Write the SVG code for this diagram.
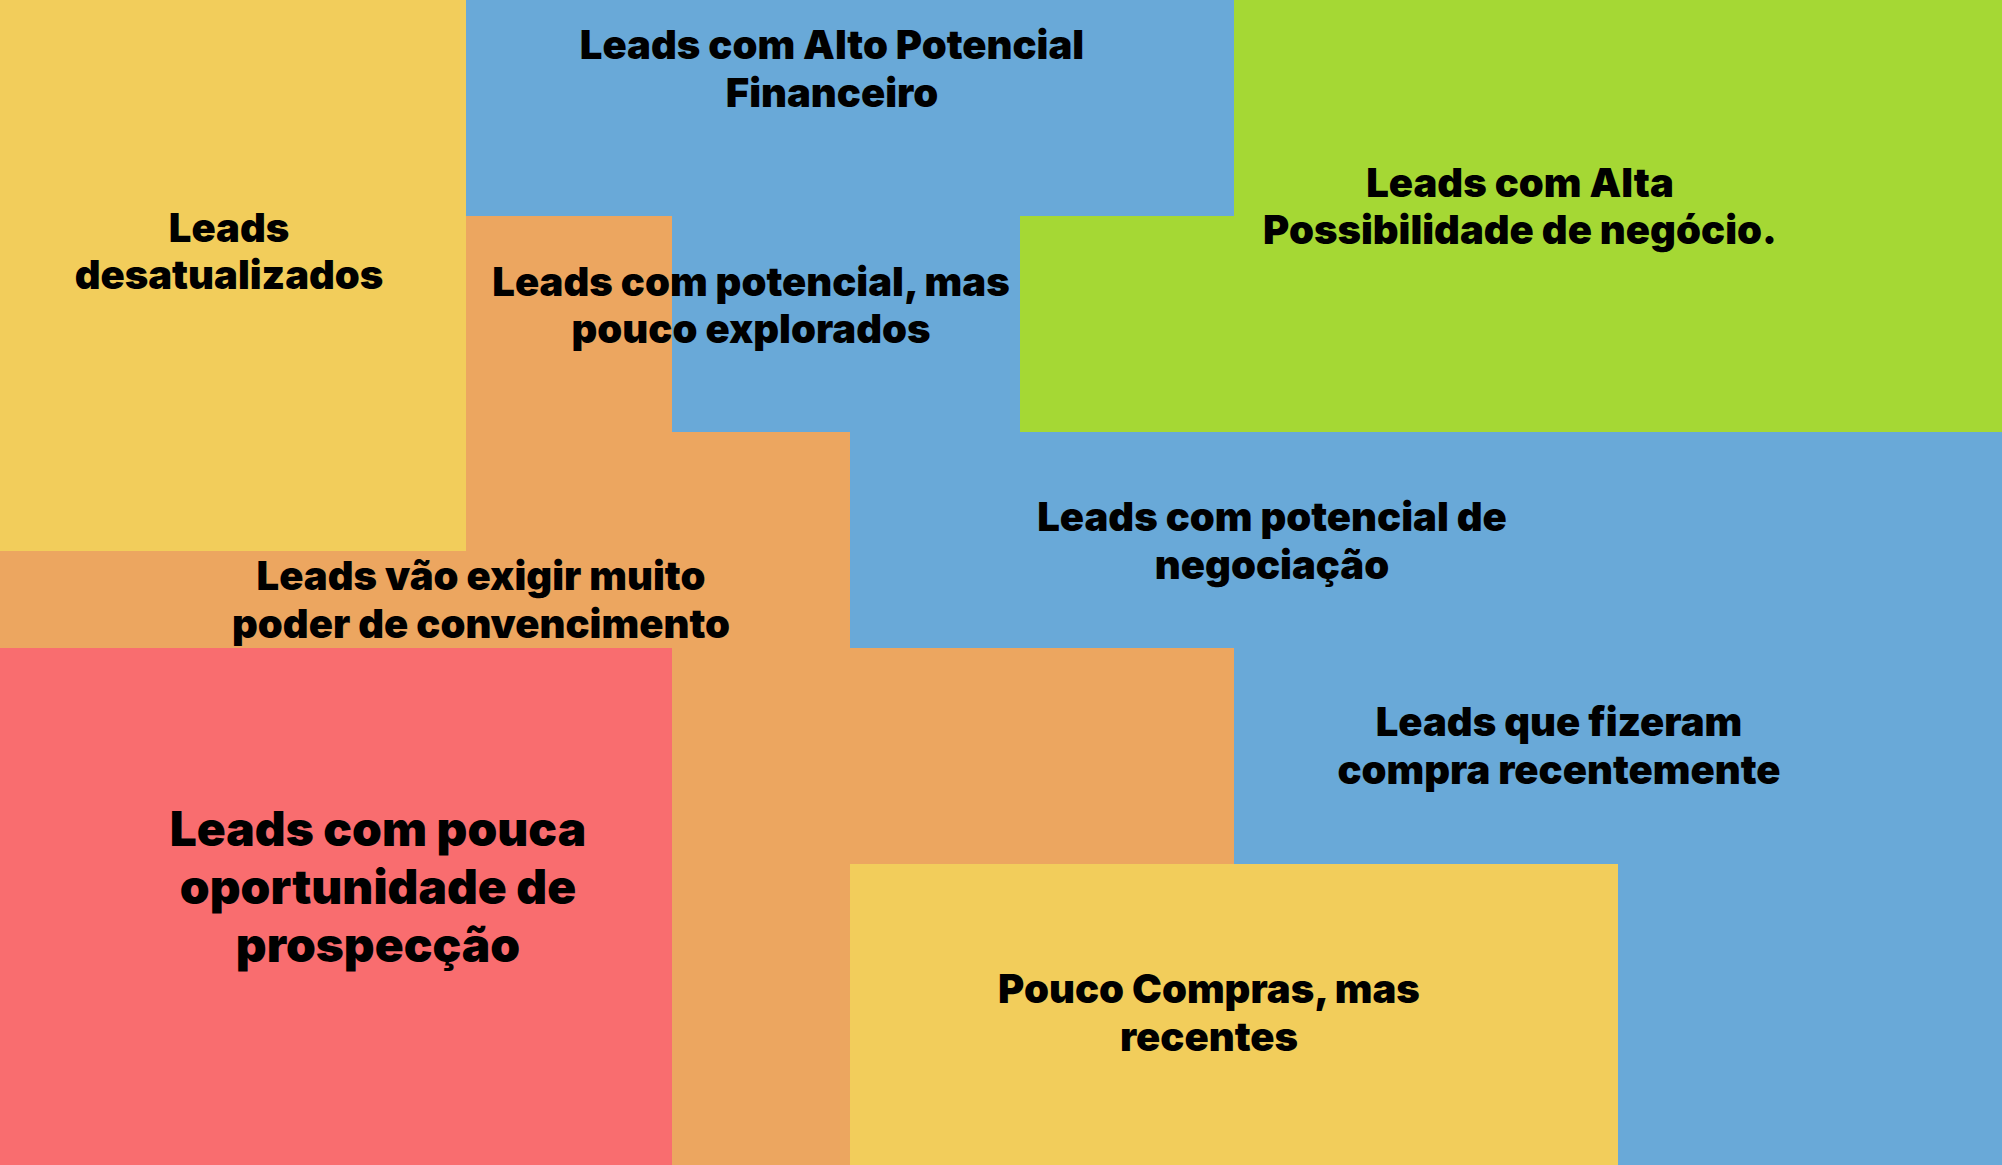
<svg xmlns="http://www.w3.org/2000/svg" width="2002" height="1165" viewBox="0 0 2002 1165">
<style>
.y{fill:#F2CD5B}.b{fill:#69A9D8}.o{fill:#ECA660}.g{fill:#A5D834}.r{fill:#F96D6F}
text{font-family:Inter,"Noto Sans","Liberation Sans",sans-serif;font-weight:900;font-size:40px;fill:#000;text-anchor:middle}
.big{font-size:47.8px}
</style>
<rect x="0" y="0" width="2002" height="1165" class="b"/>
<g id="orange-region"><path class="o" d="M466 216H672V432H850V648H1234V864H850V1165H672V648H0V551H466Z"/></g>
<g id="yellow-top"><rect class="y" x="0" y="0" width="466" height="551"/></g>
<g id="blue-top"><path class="b" d="M466 0H1234V216H1020V432H672V216H466Z"/></g>
<g id="green"><path class="g" d="M1234 0H2002V432H1020V216H1234Z"/></g>
<g id="blue-middle"><path class="b" d="M850 432H2002V1165H1618V864H1234V648H850Z"/></g>
<g id="red"><rect class="r" x="0" y="648" width="672" height="517"/></g>
<g id="yellow-bottom"><rect class="y" x="850" y="864" width="768" height="301"/></g>
<g id="labels">
<text x="832" y="59">Leads com Alto Potencial<tspan x="832" y="107">Financeiro</tspan></text>
<text x="229" y="242">Leads<tspan x="229" y="289">desatualizados</tspan></text>
<text x="751" y="296">Leads com potencial, mas<tspan x="751" y="343">pouco explorados</tspan></text>
<text x="1520" y="197">Leads com Alta<tspan x="1520" y="244">Possibilidade de negócio.</tspan></text>
<text x="1272" y="531">Leads com potencial de<tspan x="1272" y="579">negociação</tspan></text>
<text x="481" y="590">Leads vão exigir muito<tspan x="481" y="638">poder de convencimento</tspan></text>
<text x="1559" y="736">Leads que fizeram<tspan x="1559" y="784">compra recentemente</tspan></text>
<text x="1209" y="1003">Pouco Compras, mas<tspan x="1209" y="1051">recentes</tspan></text>
<text class="big" x="378" y="846">Leads com pouca<tspan x="378" y="904">oportunidade de</tspan><tspan x="378" y="962">prospecção</tspan></text>
</g>
</svg>
